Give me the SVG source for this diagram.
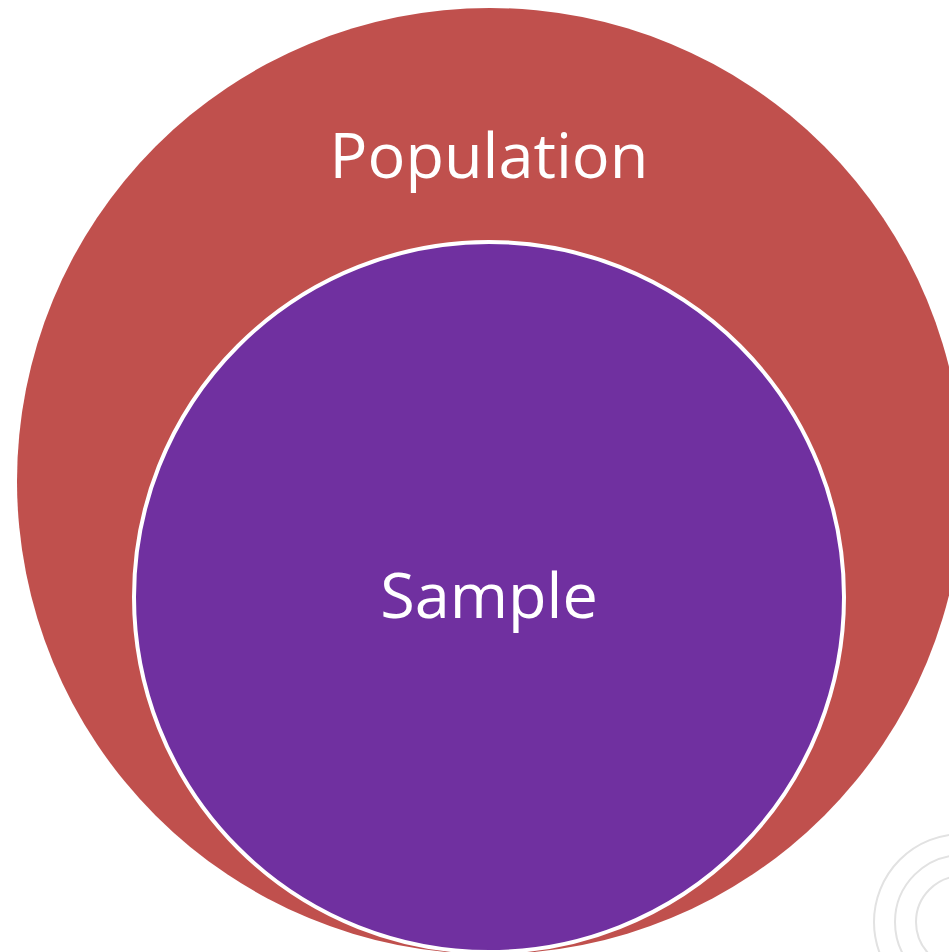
<svg xmlns="http://www.w3.org/2000/svg" width="949" height="952" viewBox="0 0 949 952">
<style>
.lbl{font-family:"Open Sans","Noto Sans","Liberation Sans",sans-serif;font-size:63px;fill:#ffffff;text-anchor:middle}
.deco{fill:none;stroke:#e2e2e2;stroke-width:2}
</style>
<rect width="949" height="952" fill="#ffffff"/>
<g id="deco">
<circle class="deco" cx="962" cy="922" r="88"/>
<circle class="deco" cx="962" cy="922" r="67"/>
<circle class="deco" cx="962" cy="922" r="46"/>
</g>
<g id="population">
<circle cx="490" cy="481" r="473" fill="#C0504D"/>
<text class="lbl" x="489" y="178">Population</text>
</g>
<g id="sample">
<circle cx="489" cy="597" r="355" fill="#7030A0" stroke="#ffffff" stroke-width="4"/>
<text class="lbl" x="489" y="618">Sample</text>
</g>
<g id="connectors"></g>
</svg>
